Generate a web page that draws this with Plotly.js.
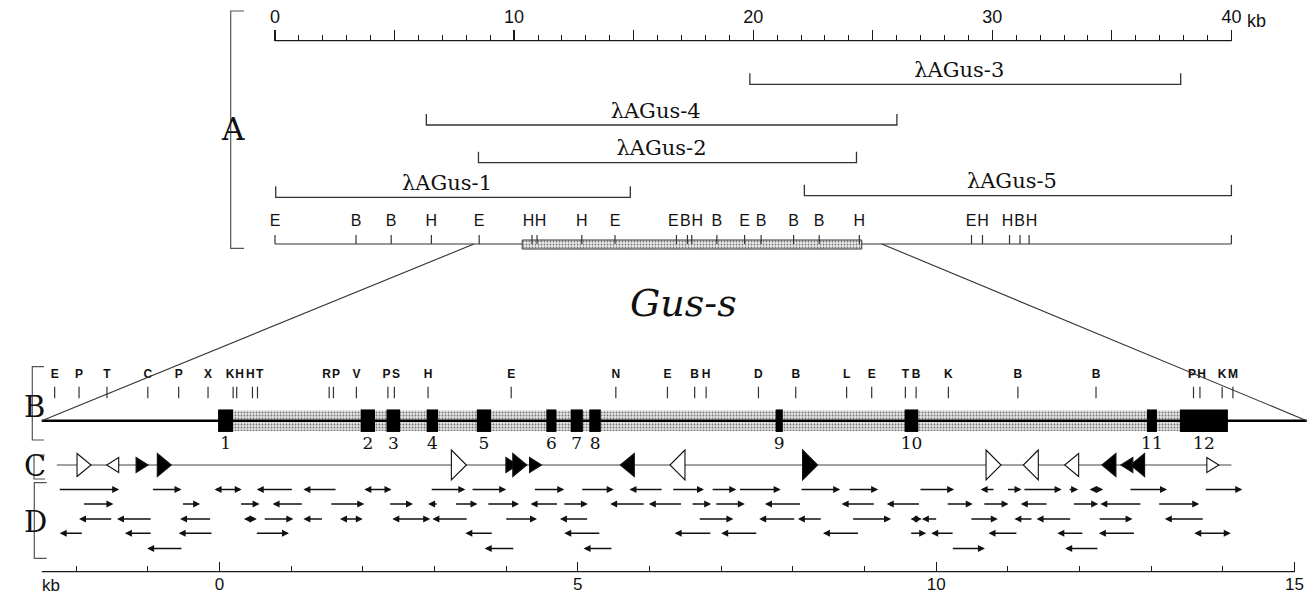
<!DOCTYPE html>
<html><head><meta charset="utf-8">
<script src="https://cdn.plot.ly/plotly-3.0.1.min.js"></script>
<style>html,body{margin:0;padding:0;background:#fff}#chart{width:1310px;height:595px}</style>
</head><body><div id="chart"></div>
<script>
// ================= DATA =================
// Panel A: 40 kb genomic map
const topTickVals = [0, 5, 10, 15, 20, 25, 30, 35, 40];
const topTickText = ['0', '', '10', '', '20', '', '30', '', '40'];
const topUnit = 'kb';
const cloneNames = ['λAGus-3', 'λAGus-4', 'λAGus-2', 'λAGus-1', 'λAGus-5'];
const cloneStart = [19.86, 6.33, 8.51, 0.03, 22.14];
const cloneEnd   = [37.88, 26.01, 24.32, 14.86, 40.0];
const topSiteLabels = ['E','B','B','H','E','H','H','H','E','E','B','H','B','E','B','B','B','H','E','H','H','B','H'];
const topSitePos    = [0, 3.39, 4.86, 6.54, 8.54, 10.75, 10.96, 12.83, 14.22, 16.79, 17.25, 17.43, 18.48, 19.64, 20.33, 21.69, 22.76, 24.44, 29.13, 29.59, 30.72, 31.16, 31.54];
const topMapSpan = [0, 40];
const topGeneBox = [10.34, 24.54];
const zoomFrom = [8.32, 25.38];
const geneName = 'Gus-s';

// Panel B: Gus-s gene detail
const bMapSpan = [-2.48, 15.17];
const exonLabels = ['1','2','3','4','5','6','7','8','9','10','11','12'];
const exonStart = [-0.02, 1.97, 2.33, 2.89, 3.59, 4.56, 4.90, 5.16, 7.76, 9.56, 12.94, 13.40];
const exonEnd   = [0.19, 2.17, 2.52, 3.05, 3.79, 4.70, 5.07, 5.32, 7.86, 9.75, 13.08, 14.07];
const bSiteLabels = ['E','P','T','C','P','X','K','H','H','T','R','P','V','P','S','H','E','N','E','B','H','D','B','L','E','T','B','K','B','B','P','H','K','M'];
const bSitePos = [-2.30,-1.96,-1.57,-1.00,-0.57,-0.16,0.19,0.24,0.46,0.53,1.53,1.59,1.91,2.35,2.44,2.91,4.07,5.53,6.25,6.63,6.79,7.52,8.04,8.75,9.10,9.57,9.72,10.17,11.14,12.23,13.59,13.68,13.99,14.14];

// Panel C: repeated elements
const cLineSpan = [-2.27, 14.12];
const repeatPos    = [-1.89,-1.49,-1.08,-0.77,3.34,4.08,4.19,4.41,5.69,6.39,8.24,10.80,11.32,11.89,12.41,12.66,12.81,13.86];
const repeatDir    = ['R','L','R','R','R','R','R','R','L','L','R','R','L','L','L','L','L','R'];
const repeatFilled = [0,0,1,1,0,1,1,1,1,0,1,0,0,0,1,1,1,0];
const repeatSize   = ['M','S','S','M','L','S','M','S','M','L','L','L','L','M','M','S','M','S'];

// Panel D: sequencing runs (row, start kb, end kb, direction R / L / B=both)
const seqRow = [
 0,0,0,0,0,0,0,0,0,0,0,0,0,0,0,0,0,0,0,0,0,0,0,0,
 1,1,1,1,1,1,1,1,1,1,1,1,1,1,1,1,1,1,1,1,1,1,1,1,
 2,2,2,2,2,2,2,2,2,2,2,2,2,2,2,2,2,2,2,2,2,2,
 3,3,3,3,3,3,3,3,3,3,3,3,3,3,3,
 4,4,4,4,4];
const seqStart = [
 -2.25,-0.95,-0.09,0.52,1.17,2.00,2.94,3.51,4.38,5.04,5.72,6.31,6.86,7.24,8.10,8.77,9.76,10.62,10.98,11.21,11.84,12.12,12.69,13.74,
 -1.91,-0.53,0.28,0.74,1.54,2.36,2.91,3.28,3.73,4.34,4.79,5.45,5.99,6.58,6.91,7.61,8.68,9.31,10.14,10.65,11.18,11.90,12.29,13.09,
 -1.96,-1.43,-0.55,0.32,0.61,1.17,1.66,2.39,2.97,3.98,4.75,6.68,7.53,8.07,8.82,9.62,9.80,10.47,11.09,11.40,12.26,13.19,
 -2.23,-1.32,-0.57,0.50,3.43,4.81,6.35,7.00,8.42,9.63,9.93,10.73,11.69,12.27,13.58,
 -1.01,3.70,5.08,10.21,11.80];
const seqEnd = [
 -1.40,-0.53,0.31,1.03,1.64,2.40,3.43,4.00,4.81,5.50,6.19,6.76,7.21,7.83,8.66,9.19,10.25,10.82,11.19,11.75,11.98,12.33,13.22,14.27,
 -1.48,-0.27,0.56,1.17,2.02,2.70,3.05,3.60,4.18,4.73,5.14,5.94,6.46,6.86,7.33,8.12,9.15,9.78,10.51,11.01,11.56,12.26,12.87,13.67,
 -1.49,-0.94,-0.11,0.52,1.03,1.45,2.00,2.94,3.47,4.43,5.15,7.17,8.04,8.41,9.37,9.80,10.02,10.86,11.35,11.89,12.74,13.74,
 -1.90,-0.94,-0.09,0.97,3.82,5.32,6.87,7.51,8.93,9.86,10.25,11.14,12.06,12.78,14.11,
 -0.51,4.12,5.49,10.68,12.27];
const seqDir = [
 'R','R','B','L','L','B','R','R','R','R','L','R','R','R','R','R','R','L','R','R','R','B','R','R',
 'R','R','R','L','R','R','L','R','R','L','R','L','L','R','R','L','L','L','R','R','L','R','L','R',
 'L','L','L','B','R','L','B','B','L','R','L','R','L','L','R','B','L','R','L','L','R','L',
 'L','L','L','R','L','L','L','L','L','R','L','L','L','L','B',
 'L','L','L','R','L'];

// Bottom kb scale
const botTickVals = [0, 5, 10, 15];
const botTickText = ['0', '5', '10', '15'];
const botMinorVals = [-2,-1,1,2,3,4,6,7,8,9,11,12,13,14];
const botUnit = 'kb';

// ================= LAYOUT GEOMETRY =================
const W = 1310, H = 595;
const SANS = 'Liberation Sans, Arial, sans-serif';
const SERIF = 'DejaVu Serif, serif';
const INK = '#1a1a1a';
const topPxPerKb = 23.91, topZeroPx = 275;
const topRange = [-topZeroPx / topPxPerKb, (W - topZeroPx) / topPxPerKb];
const botPxPerKb = 71.67, botZeroPx = 219.5;
const botRange = [-botZeroPx / botPxPerKb, (W - botZeroPx) / botPxPerKb];
const paperTop = kb => (kb - topRange[0]) / (topRange[1] - topRange[0]);
const paperBot = kb => (kb - botRange[0]) / (botRange[1] - botRange[0]);

// vertical rows (pixel rows, y axis is in pixels, reversed)
const yTopAxis = 40.7;
const cloneRowY = [84.3, 125, 162.7, 197.3, 195.7];
const cloneTick = 11, cloneLabelOff = 12.5;
const ySiteLbl = 221.7, ySiteTick = 235, yMap = 244, boxH = 9;
const yGus = 303;
const yBLbl = 375, yBTickTop = 386.7, yBTickBot = 398.3, yBMap = 420.7, exonH = 22.5, shadeH = 20.5, yExonLbl = 445;
const yC = 465;
const rowY = [489.5, 504, 519, 533.3, 548.5];
const yBotAxis = 571.7;

function spread(pos, gap) {
  const out = pos.slice();
  const idx = pos.map((p, i) => i).sort((a, b) => pos[a] - pos[b]);
  for (let it = 0; it < 200; it++) {
    let moved = false;
    for (let k = 1; k < idx.length; k++) {
      const a = idx[k - 1], b = idx[k];
      const d = out[b] - out[a];
      if (d < gap - 1e-6) { const s = (gap - d) / 2; out[a] -= s; out[b] += s; moved = true; }
    }
    if (!moved) break;
  }
  return out;
}
function segs(pairs, ys) {
  const x = [], y = [];
  pairs.forEach((p, i) => { x.push(p[0], p[1], null); y.push(ys[i][0], ys[i][1], null); });
  return {x, y};
}

const traces = [];
// ---- top axis line
traces.push({x: topMapSpan, y: [yTopAxis, yTopAxis], xaxis: 'x', yaxis: 'y', mode: 'lines', line: {color: INK, width: 1.3}, hoverinfo: 'skip'});
// ---- clones
{
  const x = [], y = [];
  cloneNames.forEach((n, i) => {
    const ly = cloneRowY[i];
    x.push(cloneStart[i], cloneStart[i], cloneEnd[i], cloneEnd[i], null);
    y.push(ly - cloneTick, ly, ly, ly - cloneTick, null);
  });
  traces.push({x, y, xaxis: 'x', yaxis: 'y', mode: 'lines', line: {color: '#333', width: 1.3}, hoverinfo: 'skip'});
  traces.push({x: cloneNames.map((n, i) => (cloneStart[i] + cloneEnd[i]) / 2 - 0.25),
    y: cloneRowY.map(v => v - cloneLabelOff), text: cloneNames, mode: 'text', xaxis: 'x', yaxis: 'y',
    textfont: {family: SERIF, size: 21, color: '#111'}, hoverinfo: 'skip'});
}
// ---- top map gene box (stippled)
traces.push({type: 'bar', orientation: 'h', xaxis: 'x', yaxis: 'y', y: [yMap + 0.5], base: [topGeneBox[0]], x: [topGeneBox[1] - topGeneBox[0]], width: boxH,
  marker: {color: '#e0e0e0', line: {color: '#333', width: 1}, pattern: {shape: '.', fgcolor: '#777', bgcolor: '#ececec', size: 3, solidity: 0.3}}, hoverinfo: 'skip'});
// ---- top map line + site ticks
{
  const pairs = [[topMapSpan[0], topGeneBox[0]], [topGeneBox[1], topMapSpan[1]], [topMapSpan[1], topMapSpan[1]]];
  const ys = [[yMap, yMap], [yMap, yMap], [ySiteTick, yMap]];
  topSitePos.forEach(p => { pairs.push([p, p]); ys.push([ySiteTick, yMap]); });
  const s = segs(pairs, ys);
  traces.push({x: s.x, y: s.y, xaxis: 'x', yaxis: 'y', mode: 'lines', line: {color: '#333', width: 1.2}, hoverinfo: 'skip'});
  const lbl = spread(topSitePos.map(p => p * topPxPerKb), 12).map(v => v / topPxPerKb);
  traces.push({x: lbl, y: topSiteLabels.map(() => ySiteLbl), text: topSiteLabels, mode: 'text', xaxis: 'x', yaxis: 'y',
    textfont: {family: SANS, size: 16, color: '#111'}, hoverinfo: 'skip'});
}
// ---- B: shaded gene region and exons
traces.push({type: 'bar', orientation: 'h', xaxis: 'x2', yaxis: 'y', y: [yBMap], base: [exonStart[0]], x: [exonEnd[exonEnd.length - 1] - exonStart[0]], width: shadeH,
  marker: {color: '#d8d8d8', line: {width: 0}, pattern: {shape: '.', fgcolor: '#777', bgcolor: '#e4e4e4', size: 3, solidity: 0.3}}, hoverinfo: 'skip'});
traces.push({type: 'bar', orientation: 'h', xaxis: 'x2', yaxis: 'y', y: exonStart.map(() => yBMap), base: exonStart, x: exonEnd.map((e, i) => e - exonStart[i]), width: exonH,
  marker: {color: '#000', line: {width: 0}}, hoverinfo: 'skip'});
traces.push({x: bMapSpan, y: [yBMap, yBMap], xaxis: 'x2', yaxis: 'y', mode: 'lines', line: {color: '#000', width: 2.6}, hoverinfo: 'skip'});
traces.push({x: exonLabels.map((l, i) => (exonStart[i] + exonEnd[i]) / 2), y: exonLabels.map(() => yExonLbl), text: exonLabels, mode: 'text', xaxis: 'x2', yaxis: 'y',
  textfont: {family: SERIF, size: 17, color: '#111'}, hoverinfo: 'skip'});
{
  const s = segs(bSitePos.map(p => [p, p]), bSitePos.map(() => [yBTickTop, yBTickBot]));
  traces.push({x: s.x, y: s.y, xaxis: 'x2', yaxis: 'y', mode: 'lines', line: {color: '#333', width: 1.2}, hoverinfo: 'skip'});
  const lbl = spread(bSitePos.map(p => p * botPxPerKb), 9.5).map(v => v / botPxPerKb);
  traces.push({x: lbl, y: bSiteLabels.map(() => yBLbl), text: bSiteLabels, mode: 'text', xaxis: 'x2', yaxis: 'y',
    textfont: {family: SANS, size: 12, color: '#111', weight: 'bold'}, hoverinfo: 'skip'});
}
// ---- C: line
traces.push({x: cLineSpan, y: [yC, yC], xaxis: 'x2', yaxis: 'y', mode: 'lines', line: {color: '#444', width: 1}, hoverinfo: 'skip'});
// ---- bottom axis line
traces.push({x: [bMapSpan[0], botTickVals[botTickVals.length - 1]], y: [yBotAxis, yBotAxis], xaxis: 'x2', yaxis: 'y', mode: 'lines', line: {color: INK, width: 1.3}, hoverinfo: 'skip'});

// ================= SHAPES =================
const shapes = [];
const triSize = {L: {h: 30, w: 15}, M: {h: 23, w: 14}, S: {h: 15, w: 12}};
repeatPos.forEach((c, i) => {
  const sz = triSize[repeatSize[i]];
  const hw = sz.w / 2 / botPxPerKb, hh = sz.h / 2;
  let path;
  if (repeatDir[i] === 'R') path = `M${c - hw},${yC - hh} L${c + hw},${yC} L${c - hw},${yC + hh} Z`;
  else path = `M${c + hw},${yC - hh} L${c - hw},${yC} L${c + hw},${yC + hh} Z`;
  shapes.push({type: 'path', xref: 'x2', yref: 'y', path, fillcolor: repeatFilled[i] ? '#000' : '#fff', line: {color: '#111', width: 1.1}});
});
// expansion lines from panel A to panel B
shapes.push({type: 'line', xref: 'paper', yref: 'y', x0: paperTop(zoomFrom[0]), y0: yMap, x1: paperBot(bMapSpan[0]), y1: yBMap, line: {color: '#333', width: 1.1}});
shapes.push({type: 'line', xref: 'paper', yref: 'y', x0: paperTop(zoomFrom[1]), y0: yMap, x1: paperBot(bMapSpan[1]), y1: yBMap, line: {color: '#333', width: 1.1}});
// section brackets (pixel geometry)
function bracket(xv, xt, y0, y1) {
  shapes.push({type: 'path', xref: 'paper', yref: 'y', path: `M${xt / W},${y0} L${xv / W},${y0} L${xv / W},${y1} L${xt / W},${y1}`, line: {color: '#555', width: 1.2}});
}
bracket(230.7, 244, 11, 248.3);
bracket(32.3, 44, 366.7, 440);
bracket(34, 45, 455, 479);
bracket(34.3, 46.7, 482.7, 558.3);

// ================= ANNOTATIONS =================
const annotations = [];
seqStart.forEach((s, i) => {
  const e = seqEnd[i], d = seqDir[i], y = rowY[seqRow[i]];
  const headLeft = d === 'L';
  annotations.push({xref: 'x2', yref: 'y', axref: 'x2', ayref: 'y',
    x: headLeft ? s : e, y, ax: headLeft ? e : s, ay: y, text: '', showarrow: true,
    arrowhead: 2, arrowsize: 1, arrowwidth: 1.4, arrowcolor: '#111',
    arrowside: d === 'B' ? 'end+start' : 'end', startarrowhead: 2, startarrowsize: 1, standoff: 0, startstandoff: 0});
});
const secFont = {family: SERIF, size: 29, color: '#111'};
annotations.push({xref: 'paper', yref: 'y', x: 219 / W, y: 128.5, text: 'A', showarrow: false, font: {family: SERIF, size: 31, color: '#111'}});
annotations.push({xref: 'paper', yref: 'y', x: 22 / W, y: 407, text: 'B', showarrow: false, font: secFont});
annotations.push({xref: 'paper', yref: 'y', x: 22 / W, y: 466, text: 'C', showarrow: false, font: secFont});
annotations.push({xref: 'paper', yref: 'y', x: 22 / W, y: 521.7, text: 'D', showarrow: false, font: secFont});
annotations.push({xref: 'paper', yref: 'y', x: paperTop((zoomFrom[0] + zoomFrom[1]) / 2) + 0.004, y: yGus, text: '<i>' + geneName + '</i>', showarrow: false,
  font: {family: SERIF, size: 38, color: '#111'}});
annotations.push({xref: 'x', yref: 'y', x: topMapSpan[1] + 0.55, y: 21, xanchor: 'left', text: topUnit, showarrow: false, font: {family: SANS, size: 18, color: '#111'}});
annotations.push({xref: 'x2', yref: 'y', x: bMapSpan[0] - 0.02, y: 585, xanchor: 'left', text: botUnit, showarrow: false, font: {family: SANS, size: 17, color: '#111'}});

const topMinor = [];
for (let v = topMapSpan[0]; v <= topMapSpan[1]; v++) if (v % 5 !== 0) topMinor.push(v);

const layout = {
  width: W, height: H, margin: {l: 0, r: 0, t: 0, b: 0},
  paper_bgcolor: '#fff', plot_bgcolor: '#fff', showlegend: false, barmode: 'overlay',
  xaxis: {domain: [0, 1], range: topRange, anchor: 'free', position: 1 - yTopAxis / H, side: 'top',
    showline: false, showgrid: false, zeroline: false, fixedrange: true,
    ticks: 'outside', tickmode: 'array', tickvals: topTickVals, ticktext: topTickText,
    ticklen: 11, tickwidth: 1.2, tickcolor: INK, tickfont: {family: SANS, size: 18, color: '#111'},
    minor: {tickmode: 'array', tickvals: topMinor, ticks: 'outside', ticklen: 6, tickwidth: 1, tickcolor: INK, showgrid: false}},
  xaxis2: {domain: [0, 1], range: botRange, overlaying: 'x', anchor: 'free', position: 1 - yBotAxis / H, side: 'bottom',
    showline: false, showgrid: false, zeroline: false, fixedrange: true,
    ticks: 'inside', tickmode: 'array', tickvals: botTickVals, ticktext: botTickText,
    ticklen: 10, tickwidth: 1.2, tickcolor: INK, tickfont: {family: SANS, size: 17, color: '#111'},
    minor: {tickmode: 'array', tickvals: botMinorVals, ticks: 'inside', ticklen: 6, tickwidth: 1, tickcolor: INK, showgrid: false}},
  yaxis: {domain: [0, 1], range: [H, 0], visible: false, fixedrange: true, anchor: 'x'},
  shapes, annotations
};
Plotly.newPlot('chart', traces, layout, {displayModeBar: false, staticPlot: true});
</script>
</body></html>
